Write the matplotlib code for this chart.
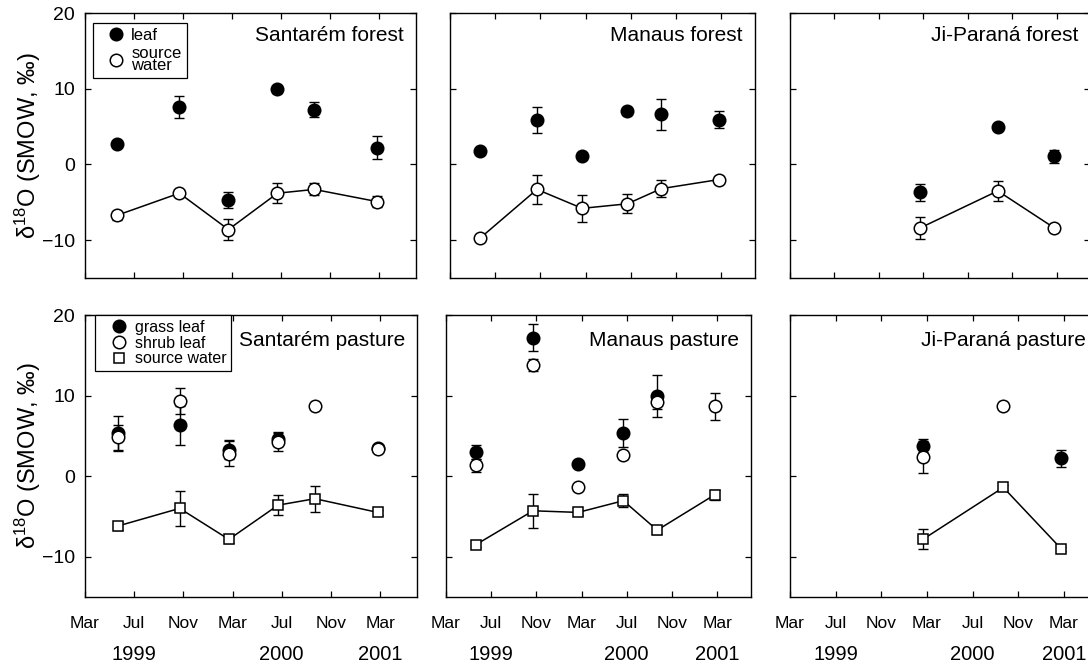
import numpy as np
import matplotlib
matplotlib.use('Agg')
import matplotlib.pyplot as plt
from matplotlib.lines import Line2D

plt.rcParams['font.family'] = ['Liberation Sans', 'DejaVu Sans']
plt.rcParams['mathtext.fontset'] = 'custom'
plt.rcParams['mathtext.rm'] = 'Liberation Sans'
plt.rcParams['mathtext.it'] = 'Liberation Sans:italic'
plt.rcParams['mathtext.bf'] = 'Liberation Sans:bold'
plt.rcParams['axes.unicode_minus'] = True

# ---------------- data ----------------
# x axis: months since 1 March 1999
month_ticks = [0, 4, 8, 12, 16, 20, 24]
month_labels = ['Mar', 'Jul', 'Nov', 'Mar', 'Jul', 'Nov', 'Mar']
year_pos = [4, 16, 24]
year_labels = ['1999', '2000', '2001']
y_ticks = [-10, 0, 10, 20]
y_tick_labels = ['\u221210', '0', '10', '20']

# sampling campaigns (months since Mar 1999)
campaign = [2.65, 7.7, 11.7, 15.7, 18.7, 23.8]
nan = np.nan

# forest sites: leaf and source water
santarem_forest_leaf = [2.7, 7.6, -4.7, 9.9, 7.2, 2.2]
santarem_forest_leaf_err = [0.0, 1.5, 1.0, 0.4, 1.0, 1.5]
santarem_forest_water = [-6.7, -3.8, -8.6, -3.8, -3.3, -4.9]
santarem_forest_water_err = [0.6, 0.4, 1.4, 1.3, 0.8, 0.75]

manaus_forest_leaf = [1.8, 5.9, 1.1, 7.0, 6.6, 5.9]
manaus_forest_leaf_err = [0.0, 1.75, 0.0, 0.5, 2.0, 1.1]
manaus_forest_water = [-9.75, -3.3, -5.8, -5.2, -3.2, -2.0]
manaus_forest_water_err = [0.0, 1.95, 1.8, 1.25, 1.15, 0.5]

jiparana_forest_leaf = [nan, nan, -3.7, nan, 4.9, 1.05]
jiparana_forest_leaf_err = [0, 0, 1.1, 0, 0.4, 0.8]
jiparana_forest_water = [nan, nan, -8.4, nan, -3.5, -8.4]
jiparana_forest_water_err = [0, 0, 1.45, 0, 1.3, 0.4]

# pasture sites: grass leaf, shrub leaf, source water
santarem_pasture_grass = [5.3, 6.3, 3.3, 4.6, nan, 3.55]
santarem_pasture_grass_err = [2.2, 2.4, 1.2, 0.9, 0, 0.3]
santarem_pasture_shrub = [4.8, 9.35, 2.8, 4.2, 8.7, 3.4]
santarem_pasture_shrub_err = [1.5, 1.6, 1.5, 1.1, 0.4, 0.3]
santarem_pasture_water = [-6.2, -4.0, -7.85, -3.6, -2.8, -4.5]
santarem_pasture_water_err = [0.5, 2.2, 0.4, 1.2, 1.6, 0.3]

manaus_pasture_grass = [3.0, 17.2, 1.5, 5.4, 10.0, nan]
manaus_pasture_grass_err = [0.9, 1.7, 0.3, 1.75, 2.6, 0]
manaus_pasture_shrub = [1.35, 13.8, -1.3, 2.6, 9.2, 8.65]
manaus_pasture_shrub_err = [0.8, 0.7, 0.3, 0.5, 0.9, 1.7]
manaus_pasture_water = [-8.5, -4.3, -4.5, -3.05, -6.7, -2.3]
manaus_pasture_water_err = [0.3, 2.1, 0.3, 0.8, 0.5, 0.6]

jiparana_pasture_grass = [nan, nan, 3.8, nan, nan, 2.2]
jiparana_pasture_grass_err = [0, 0, 0.8, 0, 0, 1.1]
jiparana_pasture_shrub = [nan, nan, 2.4, nan, 8.7, nan]
jiparana_pasture_shrub_err = [0, 0, 2.0, 0, 0.4, 0]
jiparana_pasture_water = [nan, nan, -7.8, nan, -1.4, -9.05]
jiparana_pasture_water_err = [0, 0, 1.3, 0, 0.3, 0.3]

titles = ['Santarém forest', 'Manaus forest', 'Ji-Paraná forest',
          'Santarém pasture', 'Manaus pasture', 'Ji-Paraná pasture']

# ---------------- layout ----------------
W, H = 1088, 664
DPI = 100
fig = plt.figure(figsize=(W / DPI, H / DPI), dpi=DPI)
PX = 72.0 / DPI  # points per pixel

# panel boxes in pixels: (left, top, right, bottom)
boxes = [(85, 13, 416, 278), (450, 13, 755, 278), (790, 13, 1090, 278),
         (85, 315, 417, 597), (446, 315, 751, 597), (790, 315, 1098, 597)]


def make_ax(box):
    l, t, r, b = box
    return fig.add_axes([l / W, 1 - b / H, (r - l) / W, (b - t) / H])


def series(ax, y, e, marker, face, ms, z, line=False):
    x = np.asarray(campaign, float)
    y = np.asarray(y, float)
    e = np.asarray(e, float)
    m = ~np.isnan(y)
    if line:
        ax.plot(x[m], y[m], '-', color='k', lw=1.1, zorder=z - 0.5)
    ax.errorbar(x[m], y[m], yerr=e[m], fmt='none', ecolor='k',
                elinewidth=1.0, capsize=3.6, capthick=1.0, zorder=z)
    ax.plot(x[m], y[m], linestyle='none', marker=marker, mfc=face, mec='k',
            mew=1.1, ms=ms, zorder=z + 0.2)


axes = [make_ax(b) for b in boxes]

for i, ax in enumerate(axes):
    ax.set_xlim(0, 27)
    ax.set_ylim(-15, 20)
    ax.set_yticks(y_ticks)
    ax.set_xticks(month_ticks)
    ax.tick_params(which='both', direction='in', top=True, right=True,
                   length=4.3, width=0.9, colors='k')
    for s in ax.spines.values():
        s.set_linewidth(1.0)
    if i % 3 == 0:
        ax.set_yticklabels(y_tick_labels)
        ax.tick_params(axis='y', labelsize=14, pad=7.2)
    else:
        ax.set_yticklabels([])
    if i >= 3:
        ax.set_xticklabels(month_labels)
        ax.tick_params(axis='x', labelsize=12.5, pad=14)
        for yp, yl in zip(year_pos, year_labels):
            ax.annotate(yl, xy=(yp, 0), xycoords=ax.get_xaxis_transform(),
                        xytext=(0, -63 * PX), textcoords='offset points',
                        ha='center', va='baseline', fontsize=14.5,
                        annotation_clip=False)
    else:
        ax.set_xticklabels([])
    base = 27.7 if i < 3 else 31.5
    ax.annotate(titles[i], xy=(1, 1), xycoords='axes fraction',
                xytext=(-12 * PX, -base * PX), textcoords='offset points',
                ha='right', va='baseline', fontsize=15)

CIRC = 9.0
SQ = 7.6

# forest panels
series(axes[0], santarem_forest_leaf, santarem_forest_leaf_err, 'o', 'k', CIRC, 3)
series(axes[0], santarem_forest_water, santarem_forest_water_err, 'o', 'w', CIRC, 4, line=True)
series(axes[1], manaus_forest_leaf, manaus_forest_leaf_err, 'o', 'k', CIRC, 3)
series(axes[1], manaus_forest_water, manaus_forest_water_err, 'o', 'w', CIRC, 4, line=True)
series(axes[2], jiparana_forest_leaf, jiparana_forest_leaf_err, 'o', 'k', CIRC, 3)
series(axes[2], jiparana_forest_water, jiparana_forest_water_err, 'o', 'w', CIRC, 4, line=True)

# pasture panels
for ax, g, ge, s, se, w, we in [
        (axes[3], santarem_pasture_grass, santarem_pasture_grass_err,
         santarem_pasture_shrub, santarem_pasture_shrub_err,
         santarem_pasture_water, santarem_pasture_water_err),
        (axes[4], manaus_pasture_grass, manaus_pasture_grass_err,
         manaus_pasture_shrub, manaus_pasture_shrub_err,
         manaus_pasture_water, manaus_pasture_water_err),
        (axes[5], jiparana_pasture_grass, jiparana_pasture_grass_err,
         jiparana_pasture_shrub, jiparana_pasture_shrub_err,
         jiparana_pasture_water, jiparana_pasture_water_err)]:
    series(ax, g, ge, 'o', 'k', CIRC, 3)
    series(ax, s, se, 'o', 'w', CIRC, 4)
    series(ax, w, we, 's', 'w', SQ, 5, line=True)

# legends
h_fill = Line2D([], [], ls='none', marker='o', mfc='k', mec='k', mew=1.1, ms=CIRC)
h_open = Line2D([], [], ls='none', marker='o', mfc='w', mec='k', mew=1.1, ms=CIRC)
h_sq = Line2D([], [], ls='none', marker='s', mfc='w', mec='k', mew=1.1, ms=SQ)

leg1 = axes[0].legend([h_fill, h_open], ['leaf', 'source\nwater'], loc='upper left',
                      bbox_to_anchor=(8 / 331, 1 - 10 / 265), borderaxespad=0,
                      fancybox=False, edgecolor='k', framealpha=1, fontsize=12,
                      handlelength=2.2, handletextpad=-0.2, borderpad=0.3,
                      labelspacing=0.2)
leg1.get_frame().set_linewidth(0.9)
leg1.get_texts()[1].set_linespacing(0.75)

leg2 = axes[3].legend([h_fill, h_open, h_sq], ['grass leaf', 'shrub leaf', 'source water'],
                      loc='upper left', bbox_to_anchor=(10 / 332, 1.0), borderaxespad=0,
                      fancybox=False, edgecolor='k', framealpha=1, fontsize=11.5,
                      handlelength=2.4, handletextpad=-0.2, borderpad=0.3,
                      labelspacing=0.05)
leg2.get_frame().set_linewidth(0.9)

# y-axis labels
for (l, t, r, b) in (boxes[0], boxes[3]):
    fig.text(28 / W, 1 - (t + b) / 2 / H, 'δ$^{18}$O (SMOW, ‰)', rotation=90,
             ha='center', va='center', fontsize=17)

fig.savefig('out.png', dpi=DPI)
